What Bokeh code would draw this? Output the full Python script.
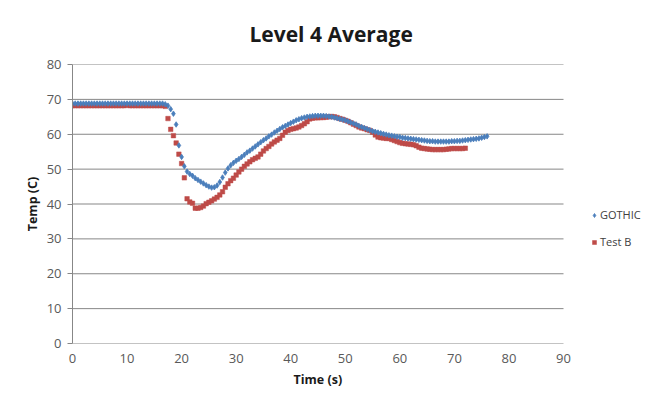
import numpy as np
from bokeh.plotting import figure
from bokeh.models import Legend, LegendItem, FixedTicker, Range1d, Title
from bokeh.embed import file_html
from bokeh.resources import INLINE

# ---------------- data ----------------
gothic_time = [i * 0.5 for i in range(153)]  # 0 .. 76 s
gothic_temp = [
    68.8, 68.8, 68.8, 68.8, 68.8, 68.8, 68.8, 68.8, 68.8, 68.8,   # 0-4.5
    68.8, 68.8, 68.8, 68.8, 68.8, 68.8, 68.8, 68.8, 68.8, 68.8,   # 5-9.5
    68.8, 68.8, 68.8, 68.8, 68.8, 68.8, 68.8, 68.8, 68.8, 68.8,   # 10-14.5
    68.8, 68.8, 68.8, 68.8, 68.6, 68.2, 67.2, 65.9, 62.8, 56.8,   # 15-19.5
    53.5, 50.8, 49.3, 48.6, 48.1, 47.4, 46.9, 46.4, 45.9, 45.4,   # 20-24.5
    45.0, 44.7, 44.8, 45.3, 46.3, 47.6, 49.0, 50.2, 51.1, 51.8,   # 25-29.5
    52.4, 52.9, 53.5, 54.1, 54.8, 55.3, 55.9, 56.5, 57.1, 57.7,   # 30-34.5
    58.3, 58.8, 59.4, 59.9, 60.5, 61.0, 61.5, 62.0, 62.4, 62.8,   # 35-39.5
    63.2, 63.6, 64.0, 64.3, 64.6, 64.8, 65.0, 65.1, 65.2, 65.3,   # 40-44.5
    65.3, 65.3, 65.3, 65.2, 65.1, 65.0, 64.8, 64.6, 64.4, 64.2,   # 45-49.5
    64.0, 63.7, 63.4, 63.1, 62.8, 62.4, 62.1, 61.8, 61.5, 61.2,   # 50-54.5
    60.9, 60.7, 60.5, 60.3, 60.1, 59.9, 59.7, 59.6, 59.4, 59.3,   # 55-59.5
    59.2, 59.0, 58.9, 58.8, 58.7, 58.6, 58.5, 58.4, 58.3, 58.2,   # 60-64.5
    58.1, 58.0, 58.0, 57.9, 57.9, 57.9, 57.9, 57.9, 57.9, 58.0,   # 65-69.5
    58.0, 58.1, 58.1, 58.2, 58.3, 58.4, 58.5, 58.6, 58.7, 58.8,   # 70-74.5
    59.0, 59.2, 59.4,                                             # 75-76
]

testb_time = [i * 0.5 for i in range(145)]  # 0 .. 72 s
testb_temp = [
    68.2, 68.2, 68.2, 68.2, 68.2, 68.2, 68.2, 68.2, 68.2, 68.2,   # 0-4.5
    68.2, 68.2, 68.2, 68.2, 68.2, 68.2, 68.2, 68.2, 68.2, 68.2,   # 5-9.5
    68.4, 68.2, 68.2, 68.2, 68.2, 68.2, 68.2, 68.2, 68.2, 68.2,   # 10-14.5
    68.2, 68.2, 68.2, 68.2, 68.0, 64.5, 61.4, 59.6, 57.5, 54.3,   # 15-19.5
    51.6, 47.5, 41.5, 40.6, 40.2, 38.8, 38.8, 39.0, 39.4, 40.1,   # 20-24.5
    40.5, 40.9, 41.4, 41.9, 42.6, 43.5, 44.8, 45.8, 46.7, 47.4,   # 25-29.5
    48.3, 49.2, 50.0, 50.8, 51.5, 52.1, 52.7, 53.1, 53.5, 54.3,   # 30-34.5
    55.2, 55.9, 56.5, 57.2, 57.8, 58.3, 58.8, 59.7, 60.6, 61.1,   # 35-39.5
    61.4, 61.6, 61.8, 62.1, 62.5, 63.0, 63.6, 64.4, 64.6, 64.7,   # 40-44.5
    64.7, 64.8, 64.8, 64.9, 65.0, 65.1, 65.0, 64.8, 64.5, 64.3,   # 45-49.5
    64.0, 63.7, 63.3, 62.9, 62.5, 62.1, 61.8, 61.6, 61.3, 61.1,   # 50-54.5
    60.6, 59.8, 59.2, 59.0, 58.9, 58.8, 58.8, 58.5, 58.2, 57.9,   # 55-59.5
    57.6, 57.4, 57.3, 57.2, 57.1, 57.0, 56.7, 56.3, 56.0, 55.9,   # 60-64.5
    55.8, 55.7, 55.6, 55.6, 55.6, 55.6, 55.6, 55.7, 55.8, 55.9,   # 65-69.5
    55.9, 55.9, 55.9, 55.9, 56.0,                                 # 70-72
]

x_ticks = [0, 10, 20, 30, 40, 50, 60, 70, 80, 90]
y_ticks = [0, 10, 20, 30, 40, 50, 60, 70, 80]

series_names = ["GOTHIC", "Test B"]
title_text = "Level 4 Average"
x_label = "Time (s)"
y_label = "Temp (C)"

# ---------------- layout ----------------
FONT = "Open Sans"
TICK_COLOR = "#595959"
GRID_COLOR = "#878787"

W, H = 660, 407
LEFT, TOP, BOTTOM = 72, 64, 64
AXIS_PX = 491                       # pixel width of the 0..90 axis
x_max = x_ticks[-1]
x_end = x_max * (W - LEFT) / AXIS_PX  # frame runs to the right edge; the legend sits in it

p = figure(width=W, height=H, output_backend="svg", toolbar_location=None,
           x_range=Range1d(0, x_end), y_range=Range1d(y_ticks[0], y_ticks[-1]),
           min_border_left=LEFT, min_border_right=0, min_border_top=TOP,
           min_border_bottom=BOTTOM)

p.title.text = title_text
p.title.align = "left"
p.title.offset = 177
p.title.text_font = FONT
p.title.text_font_size = "21px"
p.title.text_font_style = "bold"
p.title.text_color = "#1a1a1a"
p.title.standoff = 33

p.outline_line_color = None
p.background_fill_color = "white"
p.border_fill_color = "white"
p.xgrid.grid_line_color = None
p.ygrid.grid_line_color = None

# horizontal gridlines (incl. the x axis line) only over 0..90
p.segment(x0=[x_ticks[0]] * len(y_ticks), y0=y_ticks,
          x1=[x_max] * len(y_ticks), y1=y_ticks,
          line_color=GRID_COLOR, line_width=1)

p.xaxis.ticker = FixedTicker(ticks=x_ticks)
p.yaxis.ticker = FixedTicker(ticks=y_ticks)
for ax in (p.xaxis[0], p.yaxis[0]):
    ax.axis_line_color = GRID_COLOR
    ax.major_tick_line_color = GRID_COLOR
    ax.minor_tick_line_color = None
    ax.major_label_text_font = FONT
    ax.major_label_text_font_size = "13px"
    ax.major_label_text_color = TICK_COLOR
    ax.axis_label_text_font = FONT
    ax.axis_label_text_font_size = "12.5px"
    ax.axis_label_text_font_style = "bold"
    ax.axis_label_text_color = "#1a1a1a"

p.xaxis.axis_line_color = None
p.xaxis.major_tick_out = 0
p.xaxis.major_tick_in = 0
p.xaxis.major_label_standoff = 10

# x axis title, centred under the 0..90 span
x_title = Title(text=x_label, align="left", offset=221, standoff=7,
                text_font=FONT, text_font_size="12.5px", text_font_style="bold",
                text_color="#1a1a1a")
p.add_layout(x_title, "below")

p.yaxis.major_tick_out = 5
p.yaxis.major_tick_in = 0
p.yaxis.major_label_standoff = 6
p.yaxis.axis_label = y_label
p.yaxis.axis_label_standoff = 3

r_b = p.scatter(testb_time, testb_temp, marker="square", size=4.5,
                fill_color="#be4b48", line_color="#be4b48", line_width=0.5)
r_g = p.scatter(gothic_time, gothic_temp, marker="diamond", size=5.5,
                fill_color="#4a7ebb", line_color="#4a7ebb", line_width=0.8)

legend = Legend(items=[LegendItem(label=series_names[0], renderers=[r_g]),
                       LegendItem(label=series_names[1], renderers=[r_b])],
                location=(517, 94), orientation="vertical",
                border_line_color=None, background_fill_alpha=0,
                label_text_font=FONT, label_text_font_size="11px",
                label_text_color="#404040", glyph_width=10, glyph_height=10,
                spacing=12, padding=2, label_standoff=1)
p.add_layout(legend, "center")

open("out.html", "w").write(file_html(p, INLINE))
